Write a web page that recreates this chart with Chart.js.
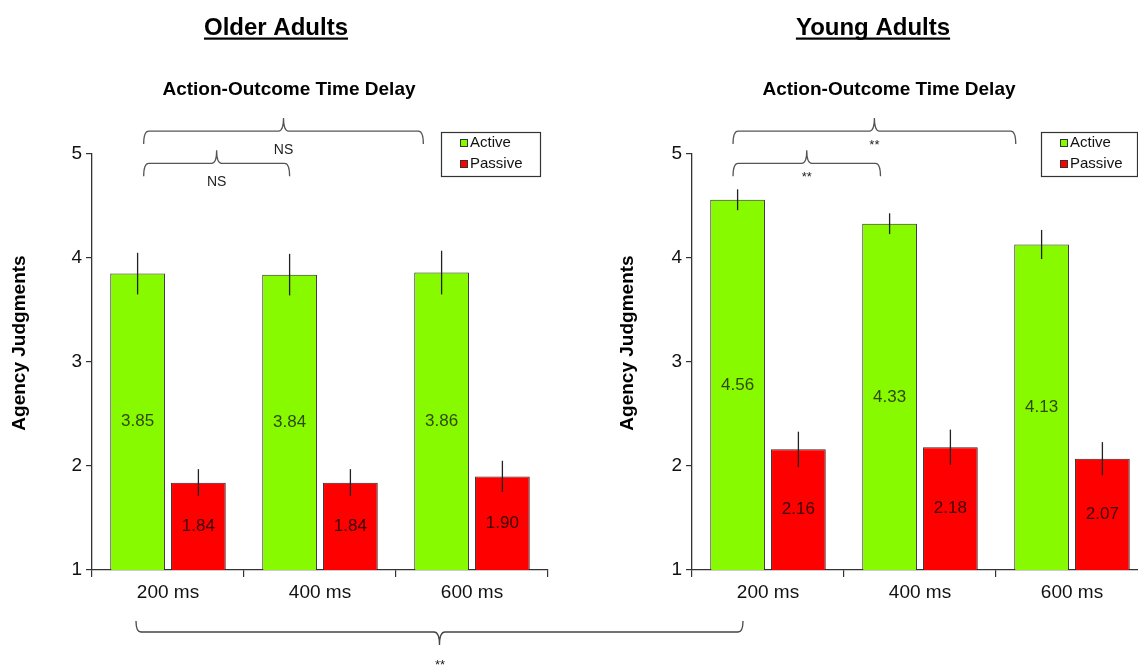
<!DOCTYPE html>
<html>
<head>
<meta charset="utf-8">
<script src="https://cdn.jsdelivr.net/npm/chart.js@4.4.1/dist/chart.umd.min.js"></script>
<style>
    html, body { margin: 0; padding: 0; background: #fff; overflow: hidden; }
    body { width: 1138px; height: 667px; position: relative; }
    canvas { position: absolute; top: 0; }
    #older-chart { left: 0; }
    #young-chart { left: 600px; }
    svg { position: absolute; left: 0; top: 0; }
</style>
</head>
<body>
<canvas id="older-chart" width="560" height="667"></canvas>
<canvas id="young-chart" width="560" height="667"></canvas>
<svg width="1138" height="667">
    <path d="M136,621 Q136,632 141,632 L434,632 Q439.5,632 439.5,645 Q439.5,632 445,632 L738,632 Q743,632 743,621"
          fill="none" stroke="#444" stroke-width="1.3"/>
    <text x="440" y="669" text-anchor="middle" font-family="Arial, 'Liberation Sans', sans-serif" font-size="13" fill="#222">**</text>
</svg>
<script>
    const FONT = 'Arial, "Liberation Sans", sans-serif';

    // Datos
    const delays = ['200 ms', '400 ms', '600 ms'];
    const seriesNames = ['Active', 'Passive'];
    const seriesColors = ['#88fa00', '#ff0000'];
    const labelColors = ['#2f4a0c', '#3a0505'];

    const olderActive = [3.85, 3.84, 3.86];
    const olderPassive = [1.84, 1.84, 1.90];
    const olderActiveErr = [0.20, 0.20, 0.21];
    const olderPassiveErr = [0.13, 0.13, 0.15];

    const youngActive = [4.56, 4.33, 4.13];
    const youngPassive = [2.16, 2.18, 2.07];
    const youngActiveErr = [0.10, 0.10, 0.14];
    const youngPassiveErr = [0.17, 0.17, 0.16];

    // comparaciones: desde / hasta en unidades de categoría, nivel en valor del eje y
    const olderBrackets = [
        { from: 0.34, to: 2.18, level: 5.22, text: 'NS' },
        { from: 0.34, to: 1.30, level: 4.91, text: 'NS' }
    ];
    const youngBrackets = [
        { from: 0.27, to: 2.13, level: 5.22, text: '**' },
        { from: 0.27, to: 1.24, level: 4.91, text: '**' }
    ];

    const drawBrace = (ctx, x1, x2, yh) => {
        const xm = (x1 + x2) / 2;
        ctx.beginPath();
        ctx.moveTo(x1, yh + 13);
        ctx.quadraticCurveTo(x1, yh, x1 + 5, yh);
        ctx.lineTo(xm - 5, yh);
        ctx.quadraticCurveTo(xm, yh, xm, yh - 13);
        ctx.quadraticCurveTo(xm, yh, xm + 5, yh);
        ctx.lineTo(x2 - 5, yh);
        ctx.quadraticCurveTo(x2, yh, x2, yh + 13);
        ctx.stroke();
    };

    const extrasPlugin = {
        id: 'extras',
        afterDatasetsDraw(chart) {
            const ctx = chart.ctx;
            const y = chart.scales.y;
            ctx.save();
            chart.data.datasets.forEach((ds, i) => {
                const meta = chart.getDatasetMeta(i);
                meta.data.forEach((bar, j) => {
                    const v = ds.data[j];
                    const e = ds.errors[j];
                    ctx.strokeStyle = '#222';
                    ctx.lineWidth = 1.3;
                    ctx.beginPath();
                    ctx.moveTo(bar.x, y.getPixelForValue(v + e));
                    ctx.lineTo(bar.x, y.getPixelForValue(v - e));
                    ctx.stroke();

                    // etiqueta en el centro visible de la barra
                    ctx.fillStyle = labelColors[i];
                    ctx.font = `17px ${FONT}`;
                    ctx.textAlign = 'center';
                    ctx.textBaseline = 'middle';
                    ctx.fillText(v.toFixed(2), bar.x, (bar.y + y.bottom) / 2);
                });
            });
            ctx.restore();
        },
        afterDraw(chart, args, opts) {
            const ctx = chart.ctx;
            const area = chart.chartArea;
            const y = chart.scales.y;
            const catWidth = (area.right - area.left) / chart.data.labels.length;
            ctx.save();

            // título subrayado
            ctx.fillStyle = '#000';
            ctx.textAlign = 'center';
            ctx.textBaseline = 'alphabetic';
            ctx.font = `bold 24px ${FONT}`;
            ctx.fillText(opts.title, opts.titleX, 35);
            const w = ctx.measureText(opts.title).width;
            ctx.fillRect(opts.titleX - w / 2, 37.5, w, 2.2);

            ctx.font = `bold 19px ${FONT}`;
            ctx.fillText('Action-Outcome Time Delay', 289, 95);

            // título del eje y
            ctx.save();
            ctx.translate(opts.yTitleX, 343);
            ctx.rotate(-Math.PI / 2);
            ctx.textBaseline = 'middle';
            ctx.fillText('Agency Judgments', 0, 0);
            ctx.restore();

            // leyenda
            ctx.strokeStyle = '#333';
            ctx.lineWidth = 1.2;
            ctx.strokeRect(441.5, 132.5, opts.legendWidth, 44);
            ctx.font = `15px ${FONT}`;
            ctx.textAlign = 'left';
            ctx.textBaseline = 'middle';
            seriesNames.forEach((name, i) => {
                const ly = 143 + i * 21;
                ctx.fillStyle = seriesColors[i];
                ctx.fillRect(460.5, ly - 3.5, 7, 7);
                ctx.strokeStyle = '#333';
                ctx.lineWidth = 1;
                ctx.strokeRect(460.5, ly - 3.5, 7, 7);
                ctx.fillStyle = '#111';
                ctx.fillText(name, 470, ly);
            });

            // llaves de comparación
            ctx.strokeStyle = '#555';
            ctx.lineWidth = 1.3;
            ctx.fillStyle = '#222';
            ctx.textAlign = 'center';
            ctx.textBaseline = 'alphabetic';
            opts.brackets.forEach(b => {
                const x1 = area.left + b.from * catWidth;
                const x2 = area.left + b.to * catWidth;
                const yh = y.getPixelForValue(b.level);
                drawBrace(ctx, x1, x2, yh);
                if (b.text === 'NS') {
                    ctx.font = `14px ${FONT}`;
                    ctx.fillText(b.text, (x1 + x2) / 2, yh + 23);
                } else {
                    ctx.font = `13px ${FONT}`;
                    ctx.fillText(b.text, (x1 + x2) / 2, yh + 18);
                }
            });
            ctx.restore();
        }
    };

    const crearGrafico = (canvasId, active, passive, activeErr, passiveErr, extras) => {
        return new Chart(document.getElementById(canvasId), {
            type: 'bar',
            data: {
                labels: delays,
                datasets: [
                    {
                        label: seriesNames[0],
                        data: active,
                        errors: activeErr,
                        backgroundColor: seriesColors[0],
                        borderColor: '#2b2b2b',
                        borderWidth: 1
                    },
                    {
                        label: seriesNames[1],
                        data: passive,
                        errors: passiveErr,
                        backgroundColor: seriesColors[1],
                        borderColor: '#2b2b2b',
                        borderWidth: 1
                    }
                ]
            },
            options: {
                responsive: false,
                animation: false,
                categoryPercentage: 0.8,
                barPercentage: 0.9,
                layout: {
                    padding: { left: 0, right: 12, top: 154, bottom: 57 }
                },
                scales: {
                    x: {
                        offset: true,
                        grid: { offset: true, drawOnChartArea: false, tickLength: 7, color: '#333', lineWidth: 1.2 },
                        border: { color: '#333', width: 1.3 },
                        ticks: { font: { size: 19, family: FONT }, color: '#111', padding: 4 },
                        afterFit: (scale) => { scale.height = 40; }
                    },
                    y: {
                        min: 1,
                        max: 5,
                        ticks: { stepSize: 1, font: { size: 19, family: FONT }, color: '#111', padding: 4 },
                        grid: { drawOnChartArea: false, tickLength: 6, color: '#333', lineWidth: 1.2 },
                        border: { color: '#333', width: 1.3 },
                        afterFit: (scale) => { scale.width = 92; }
                    }
                },
                plugins: {
                    legend: { display: false },
                    tooltip: { enabled: false },
                    extras: extras
                }
            },
            plugins: [extrasPlugin]
        });
    };

    crearGrafico('older-chart', olderActive, olderPassive, olderActiveErr, olderPassiveErr, {
        title: 'Older Adults', titleX: 276, yTitleX: 20, legendWidth: 99, brackets: olderBrackets
    });
    crearGrafico('young-chart', youngActive, youngPassive, youngActiveErr, youngPassiveErr, {
        title: 'Young Adults', titleX: 273, yTitleX: 28, legendWidth: 96, brackets: youngBrackets
    });
</script>
</body>
</html>
